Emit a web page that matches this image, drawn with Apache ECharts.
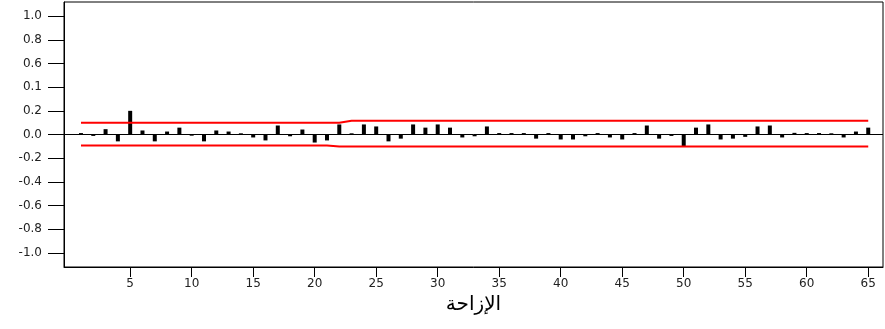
<!DOCTYPE html>
<html>
<head>
<meta charset="utf-8">
<script src="https://cdn.jsdelivr.net/npm/echarts@6/dist/echarts.min.js"></script>
<style>
html,body{margin:0;padding:0;background:#fff;}
#c{width:885px;height:329px;}
</style>
</head>
<body>
<div id="c"></div>
<script>
var lags = [];
for (var i = 1; i <= 65; i++) lags.push(i);
var acf = [0.012, -0.012, 0.045, -0.058, 0.2, 0.034, -0.058, 0.025, 0.058, -0.01,
  -0.058, 0.034, 0.025, 0.01, -0.025, -0.05, 0.076, -0.015, 0.042, -0.068,
  -0.05, 0.085, 0.01, 0.085, 0.068, -0.058, -0.035, 0.085, 0.058, 0.085,
  0.058, -0.025, -0.015, 0.068, 0.012, 0.012, 0.012, -0.035, 0.012, -0.042,
  -0.042, -0.015, 0.012, -0.025, -0.042, 0.012, 0.076, -0.035, -0.012, -0.1,
  0.058, 0.085, -0.042, -0.035, -0.02, 0.068, 0.076, -0.025, 0.014, 0.012,
  0.012, 0.01, -0.025, 0.025, 0.058];
var upperBand = [0.1,0.1,0.1,0.1,0.1,0.1,0.1,0.1,0.1,0.1,0.1,0.1,0.1,0.1,0.1,0.1,0.1,0.1,0.1,0.1,0.1,0.1,
  0.116,0.116,0.116,0.116,0.116,0.116,0.116,0.116,0.116,0.116,0.116,0.116,0.116,0.116,0.116,0.116,0.116,0.116,0.116,
  0.116,0.116,0.116,0.116,0.116,0.116,0.116,0.116,0.116,0.116,0.116,0.116,0.116,0.116,0.116,0.116,0.116,0.116,0.116,
  0.116,0.116,0.116,0.116,0.116];
var lowerBand = [-0.094,-0.094,-0.094,-0.094,-0.094,-0.094,-0.094,-0.094,-0.094,-0.094,-0.094,-0.094,-0.094,-0.094,-0.094,-0.094,-0.094,-0.094,-0.094,-0.094,-0.094,
  -0.102,-0.102,-0.102,-0.102,-0.102,-0.102,-0.102,-0.102,-0.102,-0.102,-0.102,-0.102,-0.102,-0.102,-0.102,-0.102,-0.102,-0.102,-0.102,-0.102,
  -0.102,-0.102,-0.102,-0.102,-0.102,-0.102,-0.102,-0.102,-0.102,-0.102,-0.102,-0.102,-0.102,-0.102,-0.102,-0.102,-0.102,-0.102,-0.102,-0.102,
  -0.102,-0.102,-0.102,-0.102];
var xTicks = [5,10,15,20,25,30,35,40,45,50,55,60,65];
var yTicks = [-1.0,-0.8,-0.6,-0.4,-0.2,0.0,0.2,0.4,0.6,0.8,1.0];
var yTickLabels = {'-1':'-1.0','-0.8':'-0.8','-0.6':'-0.6','-0.4':'-0.4','-0.2':'-0.2','0':'0.0','0.2':'0.2','0.4':'0.1','0.6':'0.6','0.8':'0.8','1':'1.0'};
var xName = 'الإزاحة';

function pairs(a){ return lags.map(function(l,i){ return [l, a[i]]; }); }

var chart = echarts.init(document.getElementById('c'), null, {renderer:'canvas'});
chart.setOption({
  animation: false,
  grid: {left: 64, right: 2, top: 2, bottom: 62, show: true, borderColor: '#000', borderWidth: 1, containLabel: false},
  xAxis: {
    type: 'value', min: -0.38, max: 66.2,
    splitLine: {show: false},
    axisLine: {show: true, onZero: false, lineStyle: {color: '#000', width: 1}},
    axisTick: {show: true, length: 10, lineStyle: {color: '#000'}, customValues: xTicks},
    axisLabel: {color: '#222', fontFamily: 'DejaVu Sans', fontSize: 12, margin: 11, customValues: xTicks},
    name: xName, nameLocation: 'middle', nameGap: 21,
    nameTextStyle: {color: '#000', fontFamily: 'DejaVu Sans', fontSize: 20}
  },
  yAxis: {
    type: 'value', min: -1.12, max: 1.12,
    splitLine: {show: false},
    axisLine: {show: true, onZero: false, lineStyle: {color: '#000', width: 1}},
    axisTick: {show: true, length: 16, lineStyle: {color: '#000'}, customValues: yTicks},
    axisLabel: {color: '#222', fontFamily: 'DejaVu Sans', fontSize: 12, margin: 22, customValues: yTicks,
      formatter: function(v){ var k = String(Math.round(v*10)/10); return yTickLabels[k] !== undefined ? yTickLabels[k] : v.toFixed(1); }}
  },
  series: [
    {
      type: 'bar', data: pairs(acf), barWidth: 4,
      itemStyle: {color: '#000'},
      markLine: {silent: true, symbol: ['none','none'], label: {show: false},
        lineStyle: {color: '#000', width: 1, type: 'solid'}, data: [{yAxis: 0}]}
    },
    {type: 'line', data: pairs(upperBand), symbol: 'none', lineStyle: {color: '#ff0000', width: 2}, z: 3},
    {type: 'line', data: pairs(lowerBand), symbol: 'none', lineStyle: {color: '#ff0000', width: 2}, z: 3}
  ]
});
</script>
</body>
</html>
